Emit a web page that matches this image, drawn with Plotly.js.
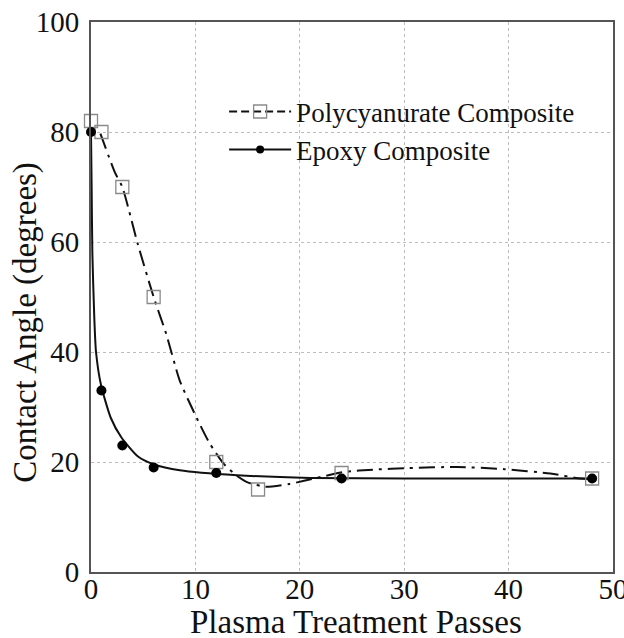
<!DOCTYPE html>
<html>
<head>
<meta charset="utf-8">
<script src="https://cdn.plot.ly/plotly-3.0.1.min.js"></script>
<style>html,body{margin:0;padding:0;background:#fff;}#chart{width:624px;height:638px;}</style>
</head>
<body>
<div id="chart"></div>
<script>
// Measured points
const polyX = [0, 1, 3, 6, 12, 16, 24, 48];
const polyY = [82, 80, 70, 50, 20, 15, 18, 17];
const epoxyX = [0, 1, 3, 6, 12, 24, 48];
const epoxyY = [80, 33, 23, 19, 18, 17, 17];
// Fitted curves
const polyFitX = [0.9, 2.3, 3, 4.5, 6, 7.2, 8.5, 9.9, 11.3, 12.7, 13.9, 15, 16.7, 19, 21.8, 24.3, 27, 30.4, 35.1, 39.6, 44, 46.9, 48];
const polyFitY = [79.7, 72.6, 70, 59.5, 50, 43.3, 34.8, 28.9, 23.6, 19.7, 17.6, 16.3, 15.5, 16, 17.2, 18.2, 18.6, 18.9, 19.1, 18.7, 17.9, 17, 16.9];
const epoxyFitX = [0, 0.06, 0.13, 0.32, 0.48, 0.96, 1.9, 2.9, 4.5, 6, 8.5, 14, 21, 30, 48];
const epoxyFitY = [80, 70, 58, 46, 40, 34, 28, 24.5, 21, 19.6, 18.5, 17.6, 17.1, 17, 17];
const seriesNames = ["Polycyanurate Composite", "Epoxy Composite"];
const xTicks = [0, 10, 20, 30, 40, 50];
const yTicks = [0, 20, 40, 60, 80, 100];
const xTitle = "Plasma Treatment Passes";
const yTitle = "Contact Angle (degrees)";

const FONT = "Liberation Serif, Times New Roman, serif";
const polyMarker = {symbol: "square-open", size: 13, color: "#8a8a8a", line: {width: 1.3, color: "#8a8a8a"}};
const epoxyMarker = {symbol: "circle", size: 10, color: "#000"};
const polyLine = {color: "#111", width: 2, dash: "16px,6px,3px,6px", shape: "spline", smoothing: 0.6};
const epoxyLine = {color: "#111", width: 2, shape: "spline", smoothing: 0.6};

const traces = [
  {x: polyFitX, y: polyFitY, mode: "lines", line: polyLine, showlegend: false, hoverinfo: "skip"},
  {x: epoxyFitX, y: epoxyFitY, mode: "lines", line: epoxyLine, showlegend: false, hoverinfo: "skip"},
  {x: polyX, y: polyY, mode: "markers", marker: polyMarker, showlegend: false, cliponaxis: false},
  {x: epoxyX, y: epoxyY, mode: "markers", marker: epoxyMarker, showlegend: false, cliponaxis: false},
  {x: [null], y: [null], name: seriesNames[0], mode: "lines+markers", marker: polyMarker, line: {color: "#111", width: 2, dash: "8px,4px"}},
  {x: [null], y: [null], name: seriesNames[1], mode: "lines+markers", marker: {symbol: "circle", size: 8, color: "#000"}, line: {color: "#111", width: 2}}
];

const layout = {
  width: 624, height: 638,
  margin: {l: 91, r: 11, t: 22, b: 66},
  paper_bgcolor: "#fff", plot_bgcolor: "#fff",
  font: {family: FONT, color: "#111", size: 29},
  showlegend: true,
  legend: {x: 0.255, y: 0.881, xanchor: "left", yanchor: "top", bgcolor: "rgba(0,0,0,0)",
           font: {family: FONT, size: 27, color: "#111"}, itemwidth: 62, tracegroupgap: 0},
  xaxis: {range: [0, 50], tickvals: xTicks, ticktext: xTicks.map(String), ticks: "",
          showgrid: true, gridcolor: "#bdbdbd", griddash: "dot", gridwidth: 1,
          showline: true, mirror: true, linecolor: "#555", linewidth: 2, zeroline: false,
          tickfont: {family: FONT, size: 29, color: "#111"}, ticklabelstandoff: -10,
          ticklabeloverflow: "allow"},
  yaxis: {range: [0, 100], tickvals: yTicks, ticktext: yTicks.map(String), ticks: "",
          showgrid: true, gridcolor: "#bdbdbd", griddash: "dot", gridwidth: 1,
          showline: true, mirror: true, linecolor: "#555", linewidth: 2, zeroline: false,
          tickfont: {family: FONT, size: 29, color: "#111"}, ticklabelstandoff: 4,
          ticklabeloverflow: "allow"},
  annotations: [
    {text: xTitle, xref: "paper", yref: "paper", x: 0.508, y: -0.091, xanchor: "center", yanchor: "middle",
     showarrow: false, font: {family: FONT, size: 33, color: "#111"}},
    {text: yTitle, xref: "paper", yref: "paper", x: -0.1245, y: 0.453, xanchor: "center", yanchor: "middle",
     textangle: -90, showarrow: false, font: {family: FONT, size: 33, color: "#111"}}
  ]
};

Plotly.newPlot("chart", traces, layout, {staticPlot: true});
</script>
</body>
</html>
